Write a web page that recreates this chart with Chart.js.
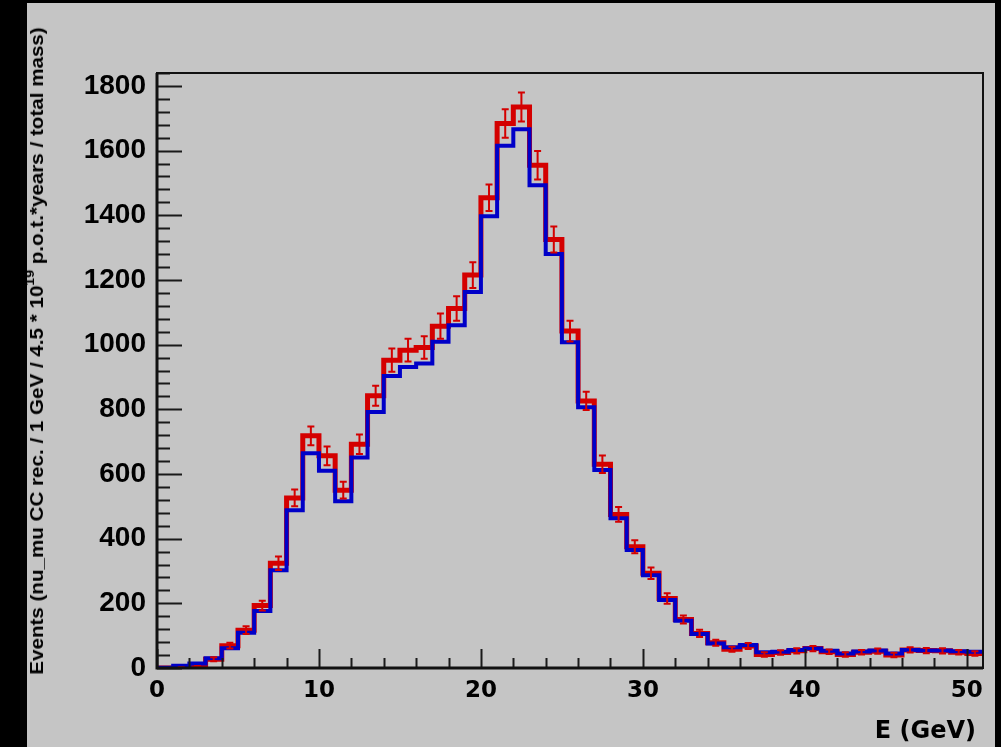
<!DOCTYPE html>
<html>
<head>
<meta charset="utf-8">
<script src="https://cdn.jsdelivr.net/npm/chart.js@4.4.1/dist/chart.umd.min.js"></script>
<style>
  html, body { margin: 0; padding: 0; background: #000; }
  #wrap { position: relative; width: 1001px; height: 747px; overflow: hidden; }
  #panel { position: absolute; left: 27px; top: 3px; width: 968px; height: 744px; background: #c5c5c5; }
  #chart { position: absolute; left: 0; top: 0; }
  #ytitle {
    position: absolute; left: 37px; top: 351px; white-space: nowrap;
    font: bold 19px "Liberation Sans", Arial, sans-serif; color: #000;
    transform-origin: center center;
  }
  #ytitle sup { font-size: 13px; line-height: 0; vertical-align: 9px; }
  #xtitle {
    position: absolute; right: 25px; top: 716px; line-height: 30px;
    font: bold 24px "DejaVu Sans", sans-serif; color: #000;
  }
</style>
</head>
<body>
<div id="wrap">
  <div id="panel"></div>
  <canvas id="chart" width="1001" height="747"></canvas>
  <div id="ytitle">Events (nu_mu CC rec. / 1 GeV / 4.5 * 10<sup>19</sup> p.o.t.*years / total mass)</div>
  <div id="xtitle">E (GeV)</div>
</div>
<script>
// 1 GeV bins from 0 to 51 GeV
const binWidth = 1;
const nBins = 51;

// red histogram (with error bars)
const redValues = [0, 1, 4, 27, 69, 117, 193, 324, 526, 718, 656, 550, 692, 842, 952, 983, 991,
  1057, 1112, 1215, 1454, 1684, 1735, 1555, 1325, 1042, 826, 630, 475, 375, 293, 215, 150, 107,
  78, 58, 68, 42, 48, 53, 60, 50, 42, 49, 52, 40, 56, 54, 53, 49, 45];
const redErrors = [0, 1, 2, 6, 9, 12, 15, 21, 26, 29, 29, 26, 30, 31, 36, 35, 35,
  39, 38, 40, 41, 44, 45, 44, 40, 32, 28, 27, 23, 20, 18, 16, 12, 11,
  9, 8, 9, 7, 7, 8, 8, 7, 7, 7, 8, 7, 8, 8, 8, 7, 7];

// blue histogram
const blueValues = [1, 7, 14, 30, 61, 109, 176, 302, 488, 664, 610, 516, 651, 792, 903, 931, 942,
  1009, 1060, 1163, 1397, 1615, 1666, 1493, 1280, 1007, 806, 612, 463, 365, 287, 210, 146, 105,
  76, 64, 71, 49, 50, 56, 60, 53, 45, 51, 54, 45, 56, 54, 54, 52, 50];

const xTicks = [0, 10, 20, 30, 40, 50];
const yTicks = [0, 200, 400, 600, 800, 1000, 1200, 1400, 1600, 1800];
const xMax = 51;
const yMax = 1840;

// step outline: one point per bin low edge, plus the last high edge
function steps(values) {
  let pts = values.map((v, i) => ({ x: i * binWidth, y: v }));
  pts.push({ x: nBins * binWidth, y: values[values.length - 1] });
  return pts;
}

// frame, ROOT-like ticks (inside) and the red error bars
const rootAxes = {
  id: "rootAxes",
  afterDatasetsDraw(chart) {
    const { ctx, chartArea: a, scales: { x, y } } = chart;
    ctx.save();

    // error bars on the red histogram
    ctx.strokeStyle = "#d40000";
    ctx.lineWidth = 2;
    redValues.forEach((v, i) => {
      let e = redErrors[i];
      if (!e) return;
      let px = x.getPixelForValue((i + 0.5) * binWidth);
      let top = y.getPixelForValue(v + e);
      let bot = y.getPixelForValue(v - e);
      ctx.beginPath();
      ctx.moveTo(px, top); ctx.lineTo(px, bot);
      ctx.moveTo(px - 3.5, top); ctx.lineTo(px + 3.5, top);
      ctx.moveTo(px - 3.5, bot); ctx.lineTo(px + 3.5, bot);
      ctx.stroke();
    });

    // ticks
    ctx.strokeStyle = "#1a1a1a";
    ctx.lineWidth = 2;
    ctx.beginPath();
    for (let v = 0; v <= yMax; v += 40) {
      let py = Math.round(y.getPixelForValue(v)) + 0.5;
      let len = v % 200 === 0 ? 25 : 13;
      ctx.moveTo(a.left, py); ctx.lineTo(a.left + len, py);
    }
    for (let v = 0; v <= xMax; v += 2) {
      let px = Math.round(x.getPixelForValue(v)) + 0.5;
      let len = v % 10 === 0 ? 19 : 10;
      ctx.moveTo(px, a.bottom); ctx.lineTo(px, a.bottom - len);
    }
    ctx.stroke();

    // frame
    ctx.strokeStyle = "#111";
    ctx.lineWidth = 2;
    ctx.strokeRect(a.left, a.top, a.right - a.left, a.bottom - a.top);
    ctx.lineWidth = 3;
    ctx.beginPath();
    ctx.moveTo(a.left, a.top); ctx.lineTo(a.left, a.bottom); ctx.lineTo(a.right, a.bottom);
    ctx.stroke();
    ctx.restore();
  }
};

const chart = new Chart(document.getElementById("chart"), {
  type: "line",
  data: {
    datasets: [
      { label: "blue", data: steps(blueValues), borderColor: "#0000c8", borderWidth: 4, stepped: true, pointRadius: 0, fill: false },
      { label: "red", data: steps(redValues), borderColor: "#d40000", borderWidth: 5, stepped: true, pointRadius: 0, fill: false }
    ]
  },
  options: {
    responsive: false,
    animation: false,
    events: [],
    layout: { padding: { left: 0, right: 18, top: 73, bottom: 0 } },
    plugins: { legend: { display: false }, tooltip: { enabled: false } },
    scales: {
      x: {
        type: "linear", min: 0, max: xMax,
        grid: { display: false, drawTicks: false }, border: { display: false },
        afterBuildTicks: s => { s.ticks = xTicks.map(v => ({ value: v })); },
        afterFit: s => { s.height = 79; },
        ticks: { padding: 9, maxRotation: 0, color: "#000", callback: v => String(v),
          font: { family: "DejaVu Sans", weight: "bold", size: 23 } }
      },
      y: {
        min: 0, max: yMax,
        grid: { display: false, drawTicks: false }, border: { display: false },
        afterBuildTicks: s => { s.ticks = yTicks.map(v => ({ value: v })); },
        afterFit: s => { s.width = 157; },
        ticks: { padding: 11, color: "#000", callback: v => String(v),
          font: { family: "Liberation Sans", weight: "bold", size: 28 } }
      }
    }
  },
  plugins: [rootAxes]
});

// stretch the rotated y title to the length it has in the picture
const yt = document.getElementById("ytitle");
const k = 647 / yt.offsetWidth;
yt.style.transform = `translate(-50%, -50%) rotate(-90deg) scaleX(${k})`;
</script>
</body>
</html>
